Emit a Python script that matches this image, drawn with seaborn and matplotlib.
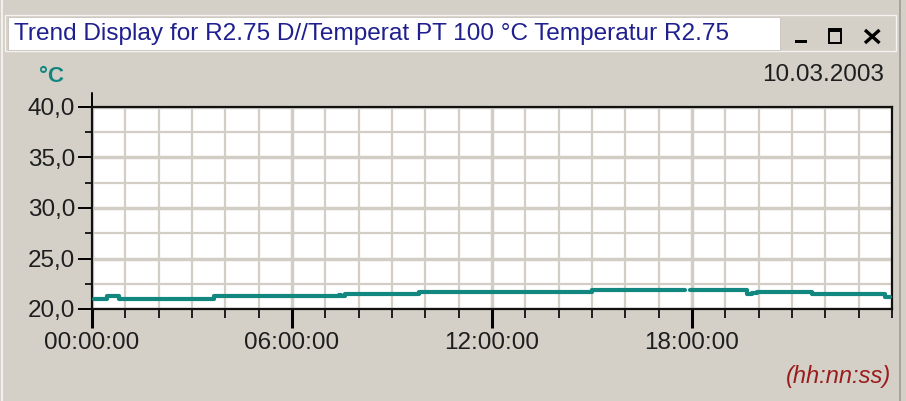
import numpy as np
import pandas as pd
import matplotlib
matplotlib.use("Agg")
import matplotlib.pyplot as plt
import seaborn as sns
from matplotlib.ticker import FixedLocator, MultipleLocator
from matplotlib.patches import Rectangle
from matplotlib.lines import Line2D

# ---- texts -------------------------------------------------------------
title = "Trend Display for R2.75 D//Temperat PT 100 °C Temperatur R2.75"
date_label = "10.03.2003"
unit_label = "°C"
time_format_label = "(hh:nn:ss)"

# ---- recorded trend: hours since midnight, temperature in °C -----------
# segment id separates the short recording gap just before 18:00
hours = [0.05, 0.45, 0.80, 3.65, 7.40, 7.48, 7.60, 9.80, 15.00, 17.80,
         17.95, 19.65, 19.80, 19.95, 21.60, 21.80, 23.80, 23.95]
temps = [21.0, 21.3, 21.0, 21.3, 21.4, 21.3, 21.5, 21.65, 21.85, 21.85,
         21.85, 21.45, 21.55, 21.65, 21.5, 21.45, 21.2, 21.2]
segment = [0, 0, 0, 0, 0, 0, 0, 0, 0, 0,
           1, 1, 1, 1, 1, 1, 1, 1]

x_tick_hours = [0, 6, 12, 18]
x_tick_labels = ["00:00:00", "06:00:00", "12:00:00", "18:00:00"]
y_ticks = [20, 25, 30, 35, 40]
y_tick_labels = ["20,0", "25,0", "30,0", "35,0", "40,0"]

df = pd.DataFrame({"hour": hours, "temp": temps, "seg": segment})

# ---- style --------------------------------------------------------------
sns.set_theme(style="white")
plt.rcParams["font.family"] = ["Liberation Sans", "DejaVu Sans"]

W, H = 906, 401
BG = "#D4D0C8"
GRID = "#D2CEC6"
TEAL = "#12877F"
INK = "#1E1E1E"

fig = plt.figure(figsize=(W / 100, H / 100), dpi=100, facecolor=BG)

# pixel-space canvas for the window chrome
bg = fig.add_axes([0, 0, 1, 1], zorder=0)
bg.set_xlim(0, W)
bg.set_ylim(H, 0)
bg.axis("off")

# window bevel
bg.add_line(Line2D([1.5, 1.5], [0, H], color="#F2F0EC", lw=1.5))
bg.add_line(Line2D([900, 900], [0, H], color="#9C9A94", lw=1.2))
# title bar frame and text box
bg.add_patch(Rectangle((5, 15), 891, 36, facecolor="none", edgecolor="#F4F3F0", lw=1.0))
bg.add_patch(Rectangle((8, 17), 772, 33, facecolor="white", edgecolor="#C8C4BC", lw=0.6))
bg.text(14, 34, title, color="#1F1F8F", fontsize=17.6, ha="left", va="center")

# window buttons: minimise, maximise, close
bg.add_patch(Rectangle((795, 39.5), 12, 3.5, facecolor="black", edgecolor="none"))
bg.add_patch(Rectangle((828.5, 28.5), 12.5, 14, facecolor="none", edgecolor="black", lw=1.4))
bg.add_patch(Rectangle((828.5, 28.5), 12.5, 3.2, facecolor="black", edgecolor="none"))
bg.add_line(Line2D([865, 879.5], [30, 43], color="black", lw=2.4, solid_capstyle="butt"))
bg.add_line(Line2D([865, 879.5], [43, 30], color="black", lw=2.4, solid_capstyle="butt"))

# unit, date and time-format captions
bg.text(52, 76, unit_label, color=TEAL, fontsize=16, fontweight="bold", ha="center", va="center")
bg.text(884, 75, date_label, color=INK, fontsize=17.5, ha="right", va="center")
bg.text(891, 377, time_format_label, color="#9B1C1C", fontsize=17, fontstyle="italic",
        ha="right", va="center")

# y axis line poking above the plot area
bg.add_line(Line2D([92, 92], [93, 107], color="black", lw=1.4))

# ---- trend plot ---------------------------------------------------------
left, right, top, bottom = 92, 892, 107, 309
ax = fig.add_axes([left / W, 1 - bottom / H, (right - left) / W, (bottom - top) / H], zorder=1)
ax.set_facecolor("white")

sns.lineplot(data=df, x="hour", y="temp", units="seg", estimator=None,
             drawstyle="steps-post", color=TEAL, lw=3.0, legend=False, ax=ax, zorder=3)

ax.set_xlim(0, 24)
ax.set_ylim(20, 40)
ax.set_xlabel("")
ax.set_ylabel("")

ax.xaxis.set_major_locator(FixedLocator(x_tick_hours))
ax.set_xticklabels(x_tick_labels)
ax.xaxis.set_minor_locator(MultipleLocator(1))
ax.yaxis.set_major_locator(FixedLocator(y_ticks))
ax.set_yticklabels(y_tick_labels)
ax.yaxis.set_minor_locator(MultipleLocator(2.5))

ax.set_axisbelow(True)
ax.grid(which="minor", color=GRID, lw=1.6)
ax.grid(which="major", color=GRID, lw=2.5)

ax.tick_params(axis="x", which="major", direction="out", length=13.5, width=2.2,
               color="black", labelsize=17.5, labelcolor=INK, pad=3, bottom=True)
ax.tick_params(axis="x", which="minor", direction="out", length=6.5, width=1.2,
               color="black", bottom=True)
ax.tick_params(axis="y", which="major", direction="out", length=10, width=1.4,
               color="black", labelsize=17.5, labelcolor=INK, pad=2, left=True)
ax.tick_params(axis="y", which="minor", direction="out", length=5, width=1.2,
               color="black", left=True)

for side in ["left", "bottom", "top", "right"]:
    ax.spines[side].set_visible(True)
    ax.spines[side].set_color("#111111")
    ax.spines[side].set_linewidth(1.6)

fig.savefig("out.png", dpi=100, facecolor=BG)
